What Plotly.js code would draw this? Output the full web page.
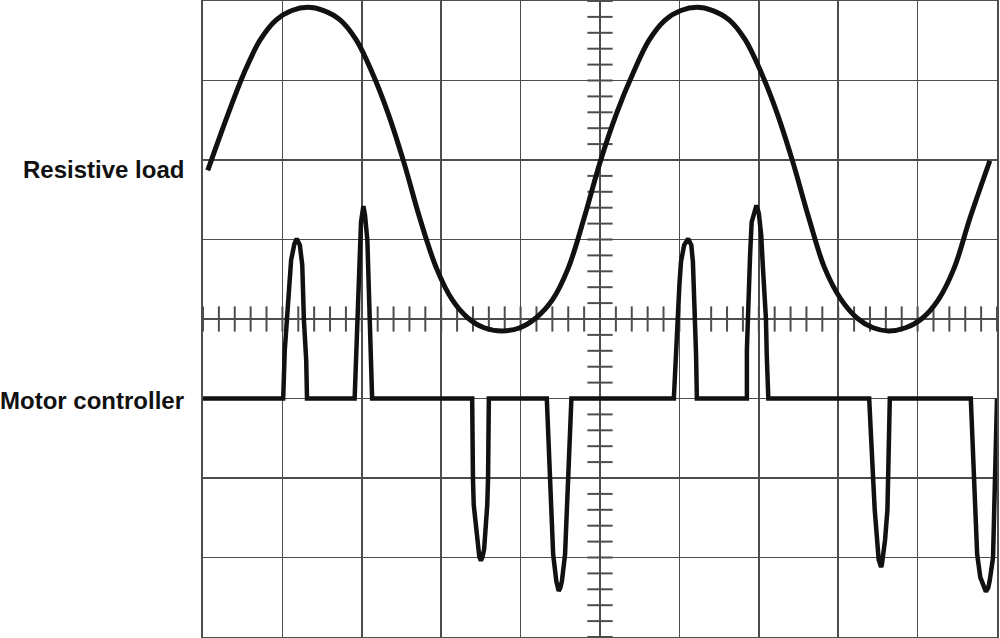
<!DOCTYPE html>
<html>
<head>
<meta charset="utf-8">
<script src="https://cdn.plot.ly/plotly-3.0.1.min.js"></script>
<style>
  html, body { margin: 0; padding: 0; background: #fff; }
  #plot { width: 1000px; height: 638px; }
</style>
</head>
<body>
<div id="plot"></div>
<script>
// screen units: x = divisions (0..10), y = divisions (-4..4)

// resistive load - sine
var sineX = [0.06, 0.32, 0.52, 0.72, 0.92, 1.12, 1.32, 1.52, 1.73, 1.93, 2.13, 2.33, 2.53,
             2.73, 2.94, 3.14, 3.34, 3.54, 3.77, 3.99, 4.19, 4.40, 4.60, 4.80, 5.00,
             5.21, 5.42, 5.62, 5.82, 6.02, 6.22, 6.42, 6.63, 6.83, 7.03, 7.23, 7.43,
             7.63, 7.83, 8.04, 8.24, 8.44, 8.63, 8.85, 9.06, 9.26, 9.46, 9.66, 9.91];
var sineY = [1.87, 2.59, 3.10, 3.51, 3.76, 3.88, 3.92, 3.88, 3.76, 3.51, 3.10, 2.59, 1.97,
             1.27, 0.64, 0.24, 0.01, -0.11, -0.15, -0.11, 0.01, 0.24, 0.64, 1.27, 1.97,
             2.59, 3.10, 3.51, 3.76, 3.88, 3.92, 3.88, 3.76, 3.51, 3.10, 2.59, 1.97,
             1.27, 0.64, 0.24, 0.01, -0.11, -0.15, -0.11, 0.01, 0.24, 0.64, 1.27, 1.99];

// motor controller - baseline with current pulses
var motorX = [0,
  1.01, 1.03, 1.06, 1.08, 1.11, 1.15, 1.18, 1.22, 1.25, 1.26, 1.27, 1.30, 1.31,
  1.91, 1.93, 1.94, 1.95, 1.97, 1.99, 2.02, 2.04, 2.07, 2.08, 2.09, 2.10, 2.12, 2.13,
  3.39, 3.39, 3.40, 3.41, 3.44, 3.46, 3.48, 3.50, 3.52, 3.54, 3.56, 3.58, 3.59, 3.60, 3.60,
  4.33, 4.35, 4.36, 4.38, 4.41, 4.45, 4.47, 4.48, 4.50, 4.52, 4.56, 4.58, 4.60, 4.62, 4.64,
  5.93, 5.96, 5.97, 6.00, 6.02, 6.06, 6.11, 6.15, 6.17, 6.18, 6.20, 6.21, 6.22,
  6.85, 6.85, 6.86, 6.88, 6.89, 6.91, 6.97, 7.00, 7.03, 7.05, 7.07, 7.09, 7.10, 7.12,
  8.39, 8.41, 8.44, 8.46, 8.49, 8.51, 8.53, 8.54, 8.55, 8.56, 8.59, 8.62, 8.63, 8.64, 8.65,
  9.67, 9.69, 9.70, 9.72, 9.75, 9.79, 9.83, 9.86, 9.89, 9.91, 9.95, 9.96, 9.98, 9.99, 10.0];
var motorY = [-1,
  -1, -0.39, 0, 0.43, 0.74, 0.94, 1.01, 0.93, 0.68, 0.36, 0, -0.52, -1,
  -1, -0.39, 0, 0.43, 0.80, 1.22, 1.42, 1.31, 0.99, 0.68, 0.36, 0, -0.45, -1,
  -1, -1.52, -2.01, -2.34, -2.65, -2.90, -2.99, -3.04, -2.99, -2.90, -2.65, -2.34, -2.01, -1.52, -1,
  -1, -1.52, -2.01, -2.53, -2.96, -3.30, -3.38, -3.42, -3.38, -3.30, -2.96, -2.53, -2.01, -1.52, -1,
  -1, -0.39, 0, 0.43, 0.72, 0.93, 1.01, 0.93, 0.72, 0.43, 0, -0.45, -1,
  -1, -0.39, 0, 0.43, 0.80, 1.22, 1.43, 1.33, 1.06, 0.68, 0.36, 0, -0.45, -1,
  -1, -1.52, -2.01, -2.40, -2.78, -3.03, -3.09, -3.12, -3.09, -3.03, -2.78, -2.40, -2.01, -1.52, -1,
  -1, -1.52, -2.01, -2.53, -2.96, -3.25, -3.38, -3.43, -3.38, -3.28, -3.00, -2.53, -2.01, -1.52, -1];

var labels = ['Resistive load', 'Motor controller'];
var labelY = [1.88, -1.03];

var gridCol = '#4d4d4d';

// minor ticks on the centre cross
var hx = [], hy = [], vx = [], vy = [];
for (var i = 0; i <= 50; i++) { hx.push(i * 0.2); hy.push(0); }
for (var j = 0; j <= 40; j++) { vx.push(5); vy.push(-4 + j * 0.2); }

var traces = [
  {x: hx, y: hy, mode: 'markers', hoverinfo: 'skip',
   marker: {symbol: 'line-ns', size: 18, line: {width: 2, color: gridCol}}},
  {x: vx, y: vy, mode: 'markers', hoverinfo: 'skip',
   marker: {symbol: 'line-ew', size: 18, line: {width: 2, color: gridCol}}},
  {x: sineX, y: sineY, mode: 'lines', name: labels[0],
   line: {color: '#111', width: 5, shape: 'spline', smoothing: 1}},
  {x: motorX, y: motorY, mode: 'lines', name: labels[1],
   line: {color: '#111', width: 4.5}}
];

var layout = {
  width: 1000, height: 638,
  margin: {l: 203, r: 3, t: 1, b: 1},
  paper_bgcolor: '#fff', plot_bgcolor: '#fff',
  showlegend: false,
  xaxis: {range: [0, 10], dtick: 1, showgrid: true, gridcolor: gridCol, gridwidth: 1.5,
          zeroline: false, showticklabels: false, ticks: '',
          showline: true, mirror: true, linecolor: gridCol, linewidth: 2},
  yaxis: {range: [-4, 4], dtick: 1, showgrid: true, gridcolor: gridCol, gridwidth: 1.5,
          zeroline: false, showticklabels: false, ticks: '',
          showline: true, mirror: true, linecolor: gridCol, linewidth: 2},
  annotations: labels.map(function (t, k) {
    return {text: t, xref: 'paper', x: 0, xanchor: 'right', xshift: -17,
            yref: 'y', y: labelY[k], yanchor: 'middle', showarrow: false,
            font: {family: 'Liberation Sans, Arial, sans-serif', size: 24, color: '#111', weight: 'bold'}};
  })
};

Plotly.newPlot('plot', traces, layout, {displayModeBar: false, staticPlot: true});
</script>
</body>
</html>
